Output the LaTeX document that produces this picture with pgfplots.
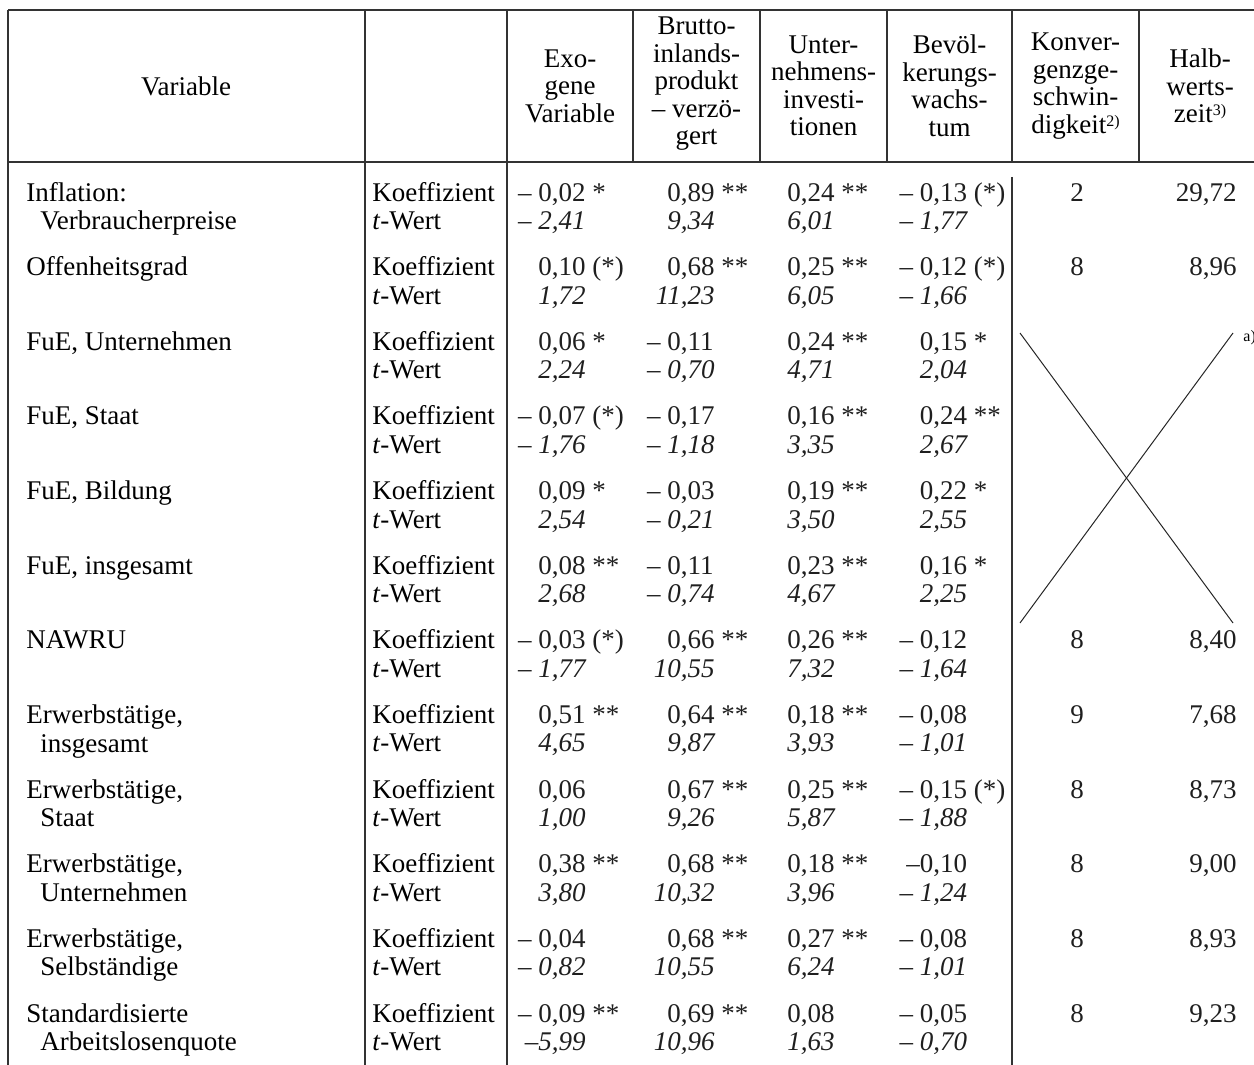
\documentclass[border=0pt]{standalone}
\usepackage{pgfplots}
\pgfplotsset{compat=1.18}
\usepackage{pgfplotstable}
\usepackage{fontspec}
\setmainfont{Liberation Serif}
\newcommand\N[2]{\llap{#1},#2}
\newcommand\tf{\fontsize{13.5}{13.75}\selectfont}
\newcommand\sups[1]{\raisebox{0.55ex}{\fontsize{8}{8}\selectfont #1}}

% coefficient (c) and t-value (t) per row r (0..11)
\pgfplotstableread[col sep=semicolon]{
r;c;t
0;\N{– 0}{02 *};\N{– 2}{41}
1;\N{0}{10 (*)};\N{1}{72}
2;\N{0}{06 *};\N{2}{24}
3;\N{– 0}{07 (*)};\N{– 1}{76}
4;\N{0}{09 *};\N{2}{54}
5;\N{0}{08 **};\N{2}{68}
6;\N{– 0}{03 (*)};\N{– 1}{77}
7;\N{0}{51 **};\N{4}{65}
8;\N{0}{06};\N{1}{00}
9;\N{0}{38 **};\N{3}{80}
10;\N{– 0}{04};\N{– 0}{82}
11;\N{– 0}{09 **};\N{–5}{99}
}\exo

\pgfplotstableread[col sep=semicolon]{
r;c;t
0;\N{0}{89 **};\N{9}{34}
1;\N{0}{68 **};\N{11}{23}
2;\N{– 0}{11};\N{– 0}{70}
3;\N{– 0}{17};\N{– 1}{18}
4;\N{– 0}{03};\N{– 0}{21}
5;\N{– 0}{11};\N{– 0}{74}
6;\N{0}{66 **};\N{10}{55}
7;\N{0}{64 **};\N{9}{87}
8;\N{0}{67 **};\N{9}{26}
9;\N{0}{68 **};\N{10}{32}
10;\N{0}{68 **};\N{10}{55}
11;\N{0}{69 **};\N{10}{96}
}\bip

\pgfplotstableread[col sep=semicolon]{
r;c;t
0;\N{0}{24 **};\N{6}{01}
1;\N{0}{25 **};\N{6}{05}
2;\N{0}{24 **};\N{4}{71}
3;\N{0}{16 **};\N{3}{35}
4;\N{0}{19 **};\N{3}{50}
5;\N{0}{23 **};\N{4}{67}
6;\N{0}{26 **};\N{7}{32}
7;\N{0}{18 **};\N{3}{93}
8;\N{0}{25 **};\N{5}{87}
9;\N{0}{18 **};\N{3}{96}
10;\N{0}{27 **};\N{6}{24}
11;\N{0}{08};\N{1}{63}
}\inv

\pgfplotstableread[col sep=semicolon]{
r;c;t
0;\N{– 0}{13 (*)};\N{– 1}{77}
1;\N{– 0}{12 (*)};\N{– 1}{66}
2;\N{0}{15 *};\N{2}{04}
3;\N{0}{24 **};\N{2}{67}
4;\N{0}{22 *};\N{2}{55}
5;\N{0}{16 *};\N{2}{25}
6;\N{– 0}{12};\N{– 1}{64}
7;\N{– 0}{08};\N{– 1}{01}
8;\N{– 0}{15 (*)};\N{– 1}{88}
9;\N{–0}{10};\N{– 1}{24}
10;\N{– 0}{08};\N{– 1}{01}
11;\N{– 0}{05};\N{– 0}{70}
}\bev

\pgfplotstableread[col sep=semicolon]{
r;k;h
0;2;29,72
1;8;8,96
6;8;8,40
7;9;7,68
8;8;8,73
9;8;9,00
10;8;8,93
11;8;9,23
}\konv

\begin{document}
\begin{tikzpicture}
\begin{axis}[
  name=ax,
  scale only axis,
  width=627pt, height=532.5pt,
  xmin=0, xmax=1254, ymin=0, ymax=1065,
  y dir=reverse,
  hide axis,
  every node/.append style={text=black!88},
  vals/.style={draw=none, mark=none, forget plot, nodes near coords,
    point meta=explicit symbolic,
    nodes near coords style={anchor=base west, inner sep=0pt, font=\tf, text=black!88}},
  tvals/.style={vals, nodes near coords style={font=\tf\itshape}},
]
% table rules
\addplot[forget plot, black!80, line width=0.9pt, unbounded coords=jump] coordinates {
(8,10) (1260,10) (nan,nan)
(8,162) (1260,162) (nan,nan)
(8,10) (8,1070) (nan,nan)
(365,10) (365,1070) (nan,nan)
(507,10) (507,1070) (nan,nan)
(633,10) (633,162) (nan,nan)
(760,10) (760,162) (nan,nan)
(887,10) (887,162) (nan,nan)
(1012,10) (1012,162) (nan,nan)
(1012,177) (1012,1070) (nan,nan)
(1139,10) (1139,162)
};
% cross for missing rows
\addplot[forget plot, black!85, line width=0.5pt] coordinates {(1020,333) (1233,623)};
\addplot[forget plot, black!85, line width=0.5pt] coordinates {(1020,623) (1233,333)};

% header
\node[font=\tf, align=center] at (axis cs:186,86) {Variable};
\node[font=\tf, align=center] at (axis cs:570,86) {Exo-\\gene\\Variable};
\node[font=\tf, align=center] at (axis cs:696.5,84) {Brutto-\\inlands-\\produkt\\– verzö-\\gert};
\node[font=\tf, align=center] at (axis cs:823.5,86) {Unter-\\nehmens-\\investi-\\tionen};
\node[font=\tf, align=center] at (axis cs:949.5,86) {Bevöl-\\kerungs-\\wachs-\\tum};
\node[font=\tf, align=center] at (axis cs:1075.5,86) {Konver-\\genzge-\\schwin-\\digkeit\sups{2)}};
\node[font=\tf, align=center] at (axis cs:1200,86) {Halb-\\werts-\\zeit\sups{3)}};
\node[font=\fontsize{8}{9}\selectfont, anchor=west, inner sep=0pt] at (axis cs:1243,338) {a)};

% variable names
\node[font=\tf, anchor=base west, inner sep=0pt] at (axis cs:26,201) {Inflation:};
\node[font=\tf, anchor=base west, inner sep=0pt] at (axis cs:40,229.5) {Verbraucherpreise};
\node[font=\tf, anchor=base west, inner sep=0pt] at (axis cs:26,275.6) {Offenheitsgrad};
\node[font=\tf, anchor=base west, inner sep=0pt] at (axis cs:26,350.3) {FuE, Unternehmen};
\node[font=\tf, anchor=base west, inner sep=0pt] at (axis cs:26,424.9) {FuE, Staat};
\node[font=\tf, anchor=base west, inner sep=0pt] at (axis cs:26,499.6) {FuE, Bildung};
\node[font=\tf, anchor=base west, inner sep=0pt] at (axis cs:26,574.2) {FuE, insgesamt};
\node[font=\tf, anchor=base west, inner sep=0pt] at (axis cs:26,648.8) {NAWRU};
\node[font=\tf, anchor=base west, inner sep=0pt] at (axis cs:26,723.5) {Erwerbstätige,};
\node[font=\tf, anchor=base west, inner sep=0pt] at (axis cs:40,752) {insgesamt};
\node[font=\tf, anchor=base west, inner sep=0pt] at (axis cs:26,798.1) {Erwerbstätige,};
\node[font=\tf, anchor=base west, inner sep=0pt] at (axis cs:40,826.6) {Staat};
\node[font=\tf, anchor=base west, inner sep=0pt] at (axis cs:26,872.8) {Erwerbstätige,};
\node[font=\tf, anchor=base west, inner sep=0pt] at (axis cs:40,901.3) {Unternehmen};
\node[font=\tf, anchor=base west, inner sep=0pt] at (axis cs:26,947.4) {Erwerbstätige,};
\node[font=\tf, anchor=base west, inner sep=0pt] at (axis cs:40,975.9) {Selbständige};
\node[font=\tf, anchor=base west, inner sep=0pt] at (axis cs:26,1022) {Standardisierte};
\node[font=\tf, anchor=base west, inner sep=0pt] at (axis cs:40,1050.5) {Arbeitslosenquote};

\pgfplotsinvokeforeach{0,...,11}{
  \node[font=\tf, anchor=base west, inner sep=0pt] at (axis cs:372,{201+74.64*#1}) {Koeffizient};
  \node[font=\tf, anchor=base west, inner sep=0pt] at (axis cs:372,{229.5+74.64*#1}) {\textit{t}-Wert};
}

% values
\addplot[vals]  table[x expr=551.5, y expr={201+74.64*\thisrow{r}}, meta=c] {\exo};
\addplot[tvals] table[x expr=551.5, y expr={229.5+74.64*\thisrow{r}}, meta=t] {\exo};
\addplot[vals]  table[x expr=680.5, y expr={201+74.64*\thisrow{r}}, meta=c] {\bip};
\addplot[tvals] table[x expr=680.5, y expr={229.5+74.64*\thisrow{r}}, meta=t] {\bip};
\addplot[vals]  table[x expr=800.5, y expr={201+74.64*\thisrow{r}}, meta=c] {\inv};
\addplot[tvals] table[x expr=800.5, y expr={229.5+74.64*\thisrow{r}}, meta=t] {\inv};
\addplot[vals]  table[x expr=933, y expr={201+74.64*\thisrow{r}}, meta=c] {\bev};
\addplot[tvals] table[x expr=933, y expr={229.5+74.64*\thisrow{r}}, meta=t] {\bev};
\addplot[vals, nodes near coords style={anchor=base}] table[x expr=1077, y expr={201+74.64*\thisrow{r}}, meta=k] {\konv};
\addplot[vals, nodes near coords style={anchor=base east}] table[x expr=1237, y expr={201+74.64*\thisrow{r}}, meta=h] {\konv};
\end{axis}
\pgfresetboundingbox
\path[use as bounding box] (ax.south west) rectangle (ax.north east);
\end{tikzpicture}
\end{document}
